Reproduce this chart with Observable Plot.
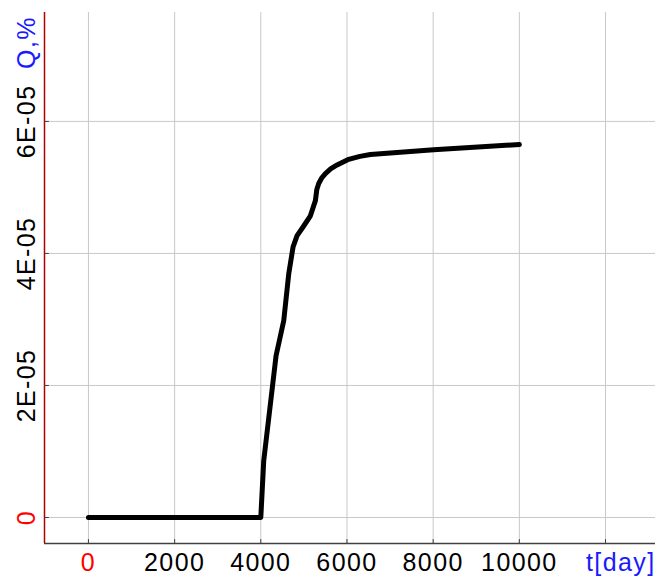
<!DOCTYPE html>
<html>
<head>
<meta charset="utf-8">
<script src="https://cdn.jsdelivr.net/npm/d3@7"></script>
<script src="https://cdn.jsdelivr.net/npm/@observablehq/plot@0.6"></script>
<style>
  html, body { margin: 0; padding: 0; background: #fff; }
  #chart svg { display: block; }
  #chart svg text { letter-spacing: 1.4px; }
</style>
</head>
<body>
<div id="chart"></div>
<script>
// Time (days) and concentration Q (%) of the breakthrough curve
const tDays = [0, 4000, 4068, 4354, 4532, 4648, 4749, 4842, 5000, 5151, 5267, 5300, 5344, 5420, 5499, 5620, 5770, 6017, 6300, 6543, 8012, 10000];
const qPct  = [0, 0, 0.86e-5, 2.45e-5, 2.98e-5, 3.69e-5, 4.10e-5, 4.27e-5, 4.42e-5, 4.57e-5, 4.80e-5, 4.97e-5, 5.06e-5, 5.15e-5, 5.21e-5, 5.28e-5, 5.34e-5, 5.42e-5, 5.47e-5, 5.50e-5, 5.57e-5, 5.65e-5];

// Axis ticks and their labels
const xTicks = [0, 2000, 4000, 6000, 8000, 10000];
const xGrid = [0, 2000, 4000, 6000, 8000, 10000, 12000];
const yTicks = [0, 2e-5, 4e-5, 6e-5];
const yTickLabels = ["0", "2E-05", "4E-05", "6E-05"];
const xTitle = "t[day]";
const yTitle = "Q,%";

const xDomain = [-1020, 13160];
const yDomain = [-3.94e-6, 7.65e-5];

const series = tDays.map((t, i) => ({t, q: qPct[i]}));

const font = "Liberation Sans, Arial, sans-serif";
const tickShape = {draw(ctx, l) { ctx.moveTo(0, 0); ctx.lineTo(0, -l); }};

const chart = Plot.plot({
  width: 659,
  height: 576,
  marginLeft: 44,
  marginRight: 4,
  marginTop: 12,
  marginBottom: 33,
  style: {fontFamily: font, background: "#fff"},
  x: {domain: xDomain, axis: null},
  y: {domain: yDomain, axis: null},
  marks: [
    // grid
    Plot.ruleX(xGrid, {x: d => d, stroke: "#c8c8c8", strokeWidth: 1}),
    Plot.ruleY(yTicks, {y: d => d, stroke: "#c8c8c8", strokeWidth: 1}),
    // axis lines
    Plot.ruleY([yDomain[0]], {y: d => d, stroke: "#404040", strokeWidth: 1.5}),
    Plot.ruleX([xDomain[0]], {x: d => d, stroke: "#b00000", strokeWidth: 1.5}),
    // tick marks
    Plot.vector(xGrid, {x: d => d, y: yDomain[0], length: 4, rotate: 0, anchor: "start", shape: tickShape, stroke: "#404040", strokeWidth: 1}),
    Plot.vector(yTicks, {x: xDomain[0], y: d => d, length: 4, rotate: 90, anchor: "start", shape: tickShape, stroke: "#404040", strokeWidth: 1}),
    // tick labels
    Plot.text(xTicks, {x: d => d, y: yDomain[0], dy: 27, text: d => String(d), fill: d => d === 0 ? "#ff0000" : "#000", fontSize: 25, textAnchor: "middle", lineAnchor: "bottom"}),
    Plot.text(yTicks, {x: xDomain[0], y: d => d, dx: -18, text: (d, i) => yTickLabels[i], fill: d => d === 0 ? "#ff0000" : "#000", fontSize: 25, rotate: -90, textAnchor: "middle", lineAnchor: "middle"}),
    // axis titles
    Plot.text([xTitle], {frameAnchor: "bottom-right", dy: 27, text: d => d, fill: "#1a1aff", fontSize: 25, textAnchor: "end", lineAnchor: "bottom"}),
    Plot.text([yTitle], {frameAnchor: "top-left", dx: -18, dy: 30, text: d => d, fill: "#1a1aff", fontSize: 25, rotate: -90, textAnchor: "middle", lineAnchor: "middle"}),
    // curve
    Plot.line(series, {x: "t", y: "q", stroke: "#000", strokeWidth: 5, strokeLinejoin: "round", curve: "linear"})
  ]
});

document.getElementById("chart").appendChild(chart);
</script>
</body>
</html>
